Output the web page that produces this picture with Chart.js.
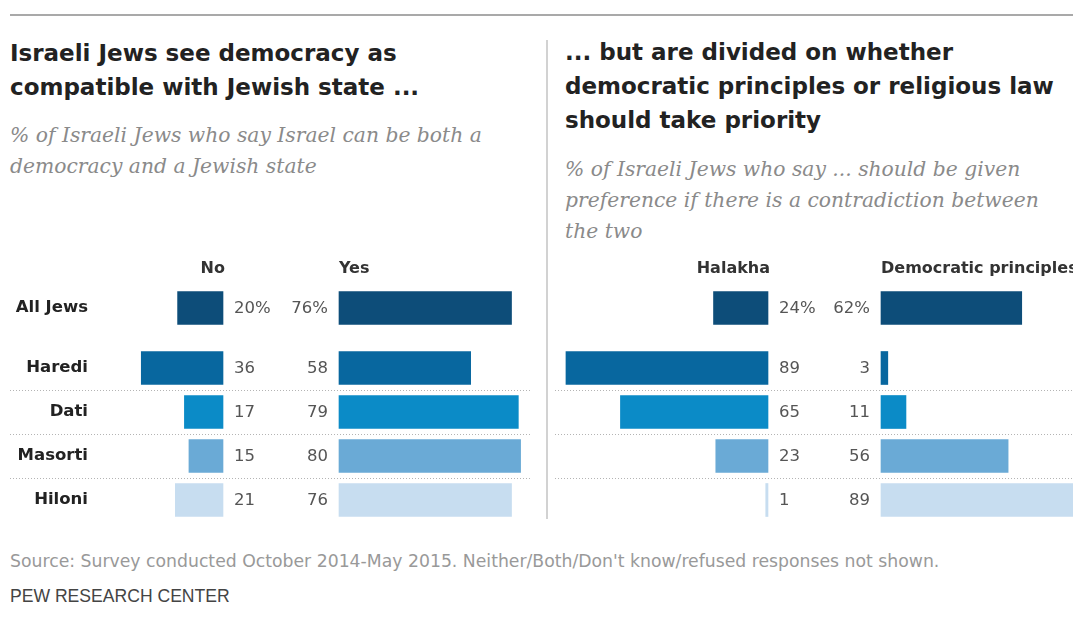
<!DOCTYPE html>
<html>
<head>
<meta charset="utf-8">
<script src="https://cdn.jsdelivr.net/npm/chart.js@4.4.1/dist/chart.umd.min.js"></script>
<style>
  html, body { margin: 0; padding: 0; background: #fff; }
  body {
    width: 1073px; height: 621px; position: relative; overflow: hidden;
    font-family: 'DejaVu Sans', 'Liberation Sans', Arial, sans-serif;
  }
  .rule { position: absolute; left: 10px; right: 0; top: 14px; height: 2px; background: #a9a9a9; }
  .divider { position: absolute; left: 546px; top: 40px; width: 2px; height: 479px; background: #d2d2d2; }
  .title {
    position: absolute; font-weight: bold; font-size: 23px; line-height: 34px;
    color: #222; white-space: nowrap;
  }
  .sub {
    position: absolute; font-family: 'DejaVu Serif', Georgia, serif; font-style: italic;
    font-size: 20.3px; line-height: 31px; color: #8a8a8a; white-space: nowrap;
  }
  .chart-box { position: absolute; left: 0; width: 1073px; }
  .source { position: absolute; left: 10px; top: 551px; font-size: 17.25px; color: #999; white-space: nowrap; }
  .brand {
    position: absolute; left: 10px; top: 585px; font-family: 'Liberation Sans', Arial, sans-serif;
    font-size: 19px; color: #444; white-space: nowrap;
    transform: scaleX(0.925); transform-origin: left center;
  }
</style>
</head>
<body>
<div class="rule"></div>

<div class="title" style="left:10px; top:36px;">Israeli Jews see democracy as<br>compatible with Jewish state ...</div>
<div class="sub" style="left:10px; top:120px;">% of Israeli Jews who say Israel can be both a<br>democracy and a Jewish state</div>

<div class="title" style="left:565px; top:35px;">... but are divided on whether<br>democratic principles or religious law<br>should take priority</div>
<div class="sub" style="left:565px; top:154px;">% of Israeli Jews who say ... should be given<br>preference if there is a contradiction between<br>the two</div>

<div class="chart-box" style="top:250px; height:80px;"><canvas id="totalChart"></canvas></div>
<div class="chart-box" style="top:346px; height:176px;"><canvas id="groupChart"></canvas></div>

<div class="divider"></div>

<div class="source">Source: Survey conducted October 2014-May 2015. Neither/Both/Don't know/refused responses not shown.</div>
<div class="brand">PEW RESEARCH CENTER</div>

<script>
// Data
const groups = ['All Jews', 'Haredi', 'Dati', 'Masorti', 'Hiloni'];
const democracyNo = [20, 36, 17, 15, 21];
const democracyYes = [76, 58, 79, 80, 76];
const halakha = [24, 89, 65, 23, 1];
const democraticPrinciples = [62, 3, 11, 56, 89];
const seriesNames = ['No', 'Yes', 'Halakha', 'Democratic principles'];

const rowColors = ['#0d4d79', '#08679f', '#0b8bc7', '#6aaad6', '#c7ddf0'];
const FONT = "'DejaVu Sans', 'Liberation Sans', Arial, sans-serif";

// Layout: where each side's zero sits, and how wide one point is
const PLOT_LEFT = 95;
const PLOT_RIGHT = 1073;
const PX_PER_PT = 2.27;
const ZERO_PX = { xNo: 223, xYes: 339, xHal: 768, xDem: 881 };

function axisFor(id, reverse) {
    const span = (PLOT_RIGHT - PLOT_LEFT) / PX_PER_PT;
    const left = (ZERO_PX[id] - PLOT_LEFT) / PX_PER_PT;
    const range = reverse ? { min: -(span - left), max: left } : { min: -left, max: span - left };
    return { type: 'linear', display: false, reverse: reverse, min: range.min, max: range.max };
}

// Value labels next to the bar base
const valueLabels = {
    id: 'valueLabels',
    afterDatasetsDraw(chart, args, opts) {
        const ctx = chart.ctx;
        ctx.save();
        ctx.font = '16.5px ' + FONT;
        ctx.fillStyle = '#555';
        ctx.textBaseline = 'middle';
        chart.data.datasets.forEach((ds, di) => {
            const meta = chart.getDatasetMeta(di);
            const reversed = chart.scales[ds.xAxisID].options.reverse;
            meta.data.forEach((bar, i) => {
                const text = ds.data[i] + (opts.suffix || '');
                if (reversed) {
                    ctx.textAlign = 'left';
                    ctx.fillText(text, bar.base + 11, bar.y + 1);
                } else {
                    ctx.textAlign = 'right';
                    ctx.fillText(text, bar.base - 11, bar.y + 1);
                }
            });
        });
        ctx.restore();
    }
};

// Column headers above the first row
const columnHeaders = {
    id: 'columnHeaders',
    afterDraw(chart, args, opts) {
        if (!opts.show) return;
        const ctx = chart.ctx;
        ctx.save();
        ctx.font = 'bold 16px ' + FONT;
        ctx.fillStyle = '#333';
        ctx.textBaseline = 'middle';
        chart.data.datasets.forEach(ds => {
            const scale = chart.scales[ds.xAxisID];
            const x0 = scale.getPixelForValue(0);
            ctx.textAlign = scale.options.reverse ? 'right' : 'left';
            ctx.fillText(ds.label, x0 + (scale.options.reverse ? 2 : 0), opts.y);
        });
        ctx.restore();
    }
};

// Dotted separators between rows, one run per panel
const rowSeparators = {
    id: 'rowSeparators',
    beforeDatasetsDraw(chart, args, opts) {
        if (!opts.runs) return;
        const ctx = chart.ctx;
        const y = chart.scales.y;
        ctx.save();
        ctx.strokeStyle = '#b4b4b4';
        ctx.lineWidth = 1;
        ctx.setLineDash([1, 2]);
        for (let i = 0; i < chart.data.labels.length - 1; i++) {
            const yy = Math.round((y.getPixelForValue(i) + y.getPixelForValue(i + 1)) / 2) + 0.5;
            opts.runs.forEach(([x1, x2]) => {
                ctx.beginPath();
                ctx.moveTo(x1, yy);
                ctx.lineTo(x2, yy);
                ctx.stroke();
            });
        }
        ctx.restore();
    }
};

function makeChart(canvasId, from, to, opts) {
    const colors = rowColors.slice(from, to);
    const series = [democracyNo, democracyYes, halakha, democraticPrinciples];
    const axes = ['xNo', 'xYes', 'xHal', 'xDem'];
    const ctx = document.getElementById(canvasId).getContext('2d');

    return new Chart(ctx, {
        type: 'bar',
        data: {
            labels: groups.slice(from, to),
            datasets: series.map((values, k) => ({
                label: seriesNames[k],
                data: values.slice(from, to),
                xAxisID: axes[k],
                backgroundColor: colors,
                borderWidth: 0,
                barThickness: 33,
                grouped: false
            }))
        },
        options: {
            indexAxis: 'y',
            responsive: true,
            maintainAspectRatio: false,
            animation: false,
            layout: { padding: { top: opts.padTop || 0, left: 0, right: 0, bottom: 0 } },
            plugins: {
                legend: { display: false },
                tooltip: { enabled: false },
                valueLabels: { suffix: opts.suffix },
                columnHeaders: { show: opts.headers, y: 19 },
                rowSeparators: { runs: opts.separators }
            },
            scales: {
                y: {
                    type: 'category',
                    position: 'left',
                    grid: { display: false, drawTicks: false },
                    border: { display: false },
                    ticks: {
                        color: '#222',
                        padding: 7,
                        font: { family: FONT, size: 16.5, weight: 'bold' }
                    },
                    afterFit(scale) {
                        // fixed label column; rows fill the whole box
                        scale.width = PLOT_LEFT;
                        scale.paddingTop = 0;
                        scale.paddingBottom = 0;
                    }
                },
                xNo: axisFor('xNo', true),
                xYes: axisFor('xYes', false),
                xHal: axisFor('xHal', true),
                xDem: axisFor('xDem', false)
            }
        },
        plugins: [valueLabels, columnHeaders, rowSeparators]
    });
}

makeChart('totalChart', 0, 1, { padTop: 36, suffix: '%', headers: true });
makeChart('groupChart', 1, 5, { separators: [[10, 532], [555, 1073]] });
</script>
</body>
</html>
